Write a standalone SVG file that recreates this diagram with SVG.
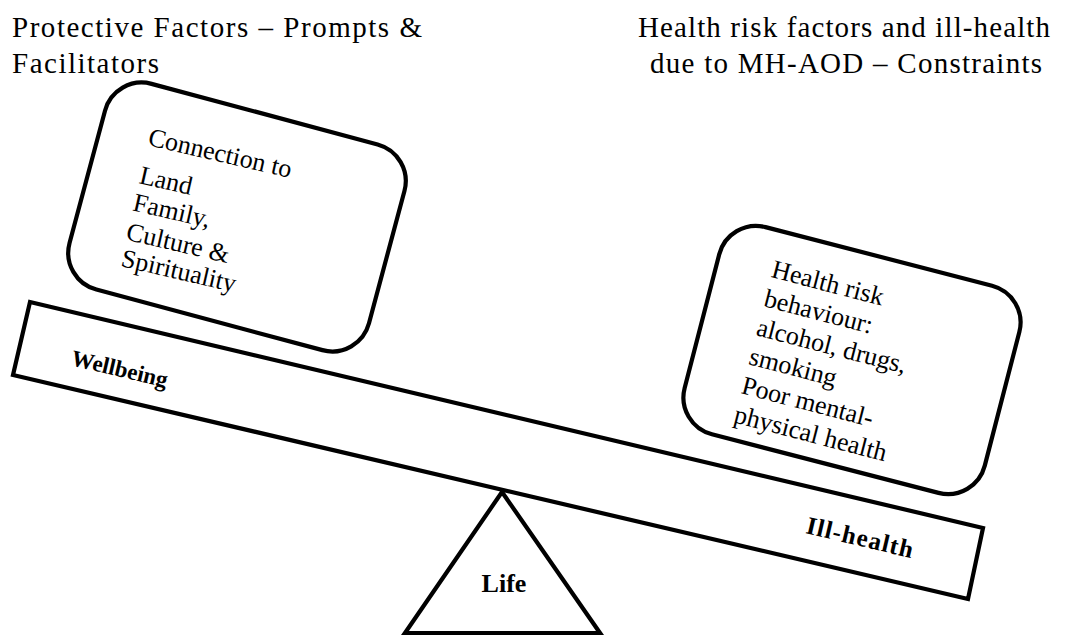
<svg xmlns="http://www.w3.org/2000/svg" width="1081" height="637" viewBox="0 0 1081 637">
  <style>
    .title { font-family: "Liberation Serif", "Times New Roman", serif; font-size: 29px; fill: #000; }
    .body { font-family: "Liberation Serif", "Times New Roman", serif; font-size: 26px; fill: #000; }
    .label { font-family: "Liberation Serif", "Times New Roman", serif; font-weight: bold; fill: #000; }
    .shape { fill: #fff; stroke: #000; stroke-width: 4.2; stroke-linejoin: miter; }
  </style>
  <rect width="1081" height="637" fill="#fff"/>

  <!-- headings -->
  <g id="title-protective">
    <text class="title" x="12" y="37" textLength="410">Protective Factors – Prompts &amp;</text>
    <text class="title" x="12" y="73" textLength="147">Facilitators</text>
  </g>
  <g id="title-constraints">
    <text class="title" x="638" y="37" textLength="412">Health risk factors and ill-health</text>
    <text class="title" x="650" y="73" textLength="392">due to MH-AOD – Constraints</text>
  </g>

  <!-- fulcrum -->
  <g id="fulcrum">
    <polygon class="shape" points="502,492 600,633 405,633"/>
    <text class="label" x="504" y="592" font-size="26" text-anchor="middle">Life</text>
  </g>

  <!-- tilted beam -->
  <g id="beam">
    <polygon class="shape" points="30,302 983,528 968,599 13,375"/>
    <text class="label" x="70" y="365" font-size="23" transform="rotate(13.3 70 365)">Wellbeing</text>
    <text class="label" x="805" y="533" font-size="25" textLength="109" transform="rotate(13.3 805 533)">Ill-health</text>
  </g>

  <!-- protective factors box -->
  <g id="box-protective">
    <rect class="shape" x="82" y="110.5" width="310" height="213" rx="38" ry="38" transform="rotate(15 237 217)"/>
    <g transform="rotate(13 237 217)">
      <text class="body" x="133" y="167">Connection to</text>
      <text class="body" x="133" y="206">Land</text>
      <text class="body" x="133" y="234">Family,</text>
      <text class="body" x="133" y="264">Culture &amp;</text>
      <text class="body" x="134" y="291">Spirituality</text>
    </g>
  </g>

  <!-- risk factors box -->
  <g id="box-risk">
    <rect class="shape" x="697" y="253" width="310" height="214" rx="38" ry="38" transform="rotate(14.5 852 360)"/>
    <g transform="rotate(14.5 852 360)">
      <text class="body" x="752" y="300">Health risk</text>
      <text class="body" x="752" y="330">behaviour:</text>
      <text class="body" x="752" y="360">alcohol, drugs,</text>
      <text class="body" x="752" y="390">smoking</text>
      <text class="body" x="752" y="420">Poor mental-</text>
      <text class="body" x="752" y="450">physical health</text>
    </g>
  </g>
</svg>
